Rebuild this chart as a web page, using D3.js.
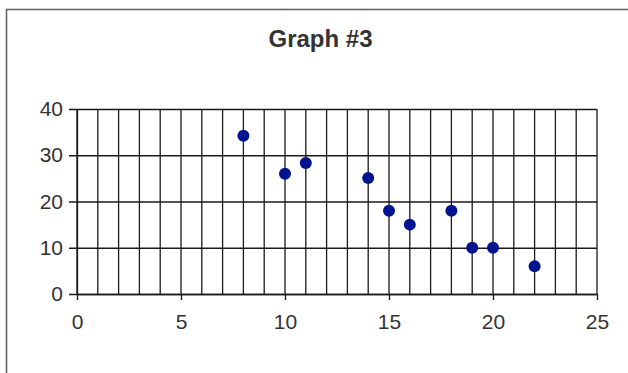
<!DOCTYPE html>
<html>
<head>
<meta charset="utf-8">
<script src="https://cdn.jsdelivr.net/npm/d3@7"></script>
<style>
  html, body { margin: 0; padding: 0; background: #fff; }
  svg { display: block; }
</style>
</head>
<body>
<script>
// Scatter data
const xValues = [8, 10, 11, 14, 15, 16, 18, 19, 20, 22];
const yValues = [34.2, 26, 28.3, 25.1, 18, 15, 18, 10, 10, 6];
const xTicks = [0, 5, 10, 15, 20, 25];
const yTicks = [0, 10, 20, 30, 40];
const xGrid = d3.range(0, 26, 1);
const title = "Graph #3";

const W = 628, H = 373;
const svg = d3.select("body").append("svg").attr("width", W).attr("height", H);

// Outer chart frame (left and top edges visible)
svg.append("rect")
  .attr("x", 6.5).attr("y", 9.5)
  .attr("width", 800).attr("height", 600)
  .attr("fill", "none").attr("stroke", "#666").attr("stroke-width", 1.6);

const x = d3.scaleLinear().domain([0, 25]).range([77, 597]);
const y = d3.scaleLinear().domain([0, 40]).range([294, 109]);

const gridColor = "#1a1a1a";

// Vertical grid lines at every unit
svg.append("g")
  .selectAll("line").data(xGrid).join("line")
  .attr("x1", d => x(d)).attr("x2", d => x(d))
  .attr("y1", y(40)).attr("y2", y(0))
  .attr("stroke", gridColor).attr("stroke-width", 1.3);

// Y axis with ticks stretched across as horizontal grid lines
const yAxis = d3.axisLeft(y).tickValues(yTicks)
  .tickSize(-(x(25) - x(0))).tickSizeOuter(0).tickPadding(14);
const gy = svg.append("g").attr("transform", `translate(${x(0)},0)`).call(yAxis);
gy.select(".domain").attr("stroke", gridColor).attr("stroke-width", 1.3);
gy.selectAll(".tick line").attr("stroke", gridColor).attr("stroke-width", 1.3)
  .attr("x1", -8);
gy.selectAll(".tick text")
  .attr("font-family", "Liberation Sans, Arial, sans-serif")
  .attr("font-size", 21).attr("fill", "#333");

// X axis with major ticks below
const xAxis = d3.axisBottom(x).tickValues(xTicks).tickSize(6).tickSizeOuter(0).tickPadding(14);
const gx = svg.append("g").attr("transform", `translate(0,${y(0)})`).call(xAxis);
gx.select(".domain").attr("stroke", gridColor).attr("stroke-width", 1.3);
gx.selectAll(".tick line").attr("stroke", gridColor).attr("stroke-width", 1.3);
gx.selectAll(".tick text")
  .attr("font-family", "Liberation Sans, Arial, sans-serif")
  .attr("font-size", 21).attr("fill", "#333");

// Points
svg.append("g")
  .selectAll("circle").data(xValues.map((v, i) => [v, yValues[i]])).join("circle")
  .attr("cx", d => x(d[0])).attr("cy", d => y(d[1]))
  .attr("r", 6)
  .attr("fill", "#00148f");

// Title
svg.append("text")
  .attr("x", 320.5).attr("y", 47)
  .attr("text-anchor", "middle")
  .attr("font-family", "Liberation Sans, Arial, sans-serif")
  .attr("font-weight", "bold").attr("font-size", 24)
  .attr("fill", "#333")
  .text(title);
</script>
</body>
</html>
